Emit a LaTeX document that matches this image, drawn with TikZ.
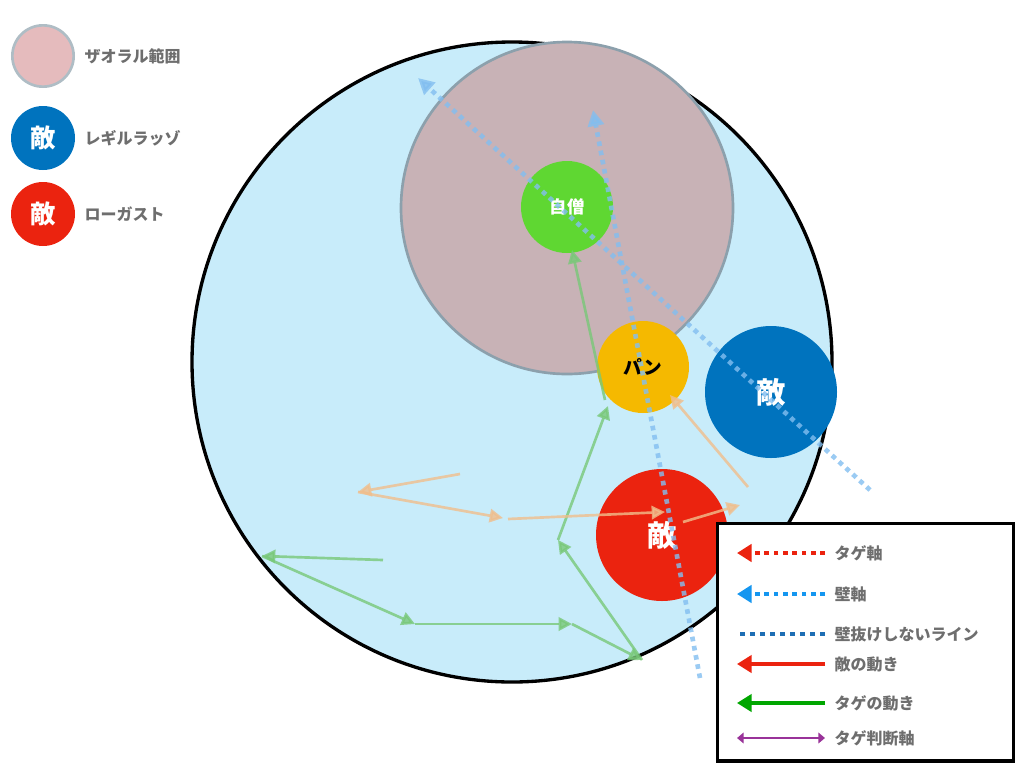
\documentclass[tikz,border=0pt]{standalone}
\usepackage{fontspec}
\newfontfamily\jp{Noto Sans CJK JP}
\usetikzlibrary{arrows.meta}
\definecolor{field}{RGB}{200,236,250}
\definecolor{zaoral}{RGB}{200,178,182}
\definecolor{zaoedge}{RGB}{140,160,172}
\definecolor{jisou}{RGB}{95,215,50}
\definecolor{pan}{RGB}{245,185,0}
\definecolor{legil}{RGB}{0,115,190}
\definecolor{logast}{RGB}{235,35,15}
\definecolor{wallax}{RGB}{130,190,240}
\definecolor{wallblue}{RGB}{20,150,240}
\definecolor{noline}{RGB}{30,110,180}
\definecolor{tagmove}{RGB}{120,200,120}
\definecolor{enmove}{RGB}{240,190,140}
\definecolor{labgray}{RGB}{110,110,110}
\tikzstyle{disc}=[circle, inner sep=0pt, anchor=center, font=\jp\bfseries]
\tikzstyle{annot}=[anchor=west, font=\jp\bfseries\fontsize{12}{13}\selectfont, text=labgray]
\tikzstyle{walldot}=[wallax, opacity=0.8, line width=3.5pt, dash pattern=on 3.5pt off 3.5pt, -{Triangle[length=12pt,width=12pt]}]
\tikzstyle{tagarrow}=[tagmove, opacity=0.8, line width=2pt, -{Triangle[length=10pt,width=10pt]}]
\tikzstyle{enarrow}=[enmove, opacity=0.8, line width=2pt, -{Triangle[length=10pt,width=10pt]}]
\begin{document}
\begin{tikzpicture}[x=0.75pt,y=-0.75pt]
  \useasboundingbox (0,0) rectangle (1024,768);

  % field and areas
  \node[disc, draw=black, line width=2.5pt, fill=field, minimum size=480pt] (field) at (512,362) {};
  \node[disc, draw=zaoedge, line width=2pt, fill=zaoral, minimum size=249pt] (zone) at (567,208) {};

  % characters
  \node[disc, fill=jisou, minimum size=69pt, text=white, font=\jp\bfseries\fontsize{13}{14}\selectfont] (jisou) at (567,207) {自僧};
  \node[disc, fill=pan, minimum size=69pt, text=black, font=\jp\bfseries\fontsize{14}{15}\selectfont] (pan) at (643,367) {パン};
  \node[disc, fill=legil, minimum size=99pt, text=white, font=\jp\bfseries\fontsize{22}{24}\selectfont] (legil) at (771,392) {敵};
  \node[disc, fill=logast, minimum size=99pt, text=white, font=\jp\bfseries\fontsize{22}{24}\selectfont] (logast) at (662,535) {敵};

  % wall axes
  \coordinate (w1s) at (870,490);
  \coordinate (w1e) at (418,78);
  \coordinate (w2s) at (700,678);
  \coordinate (w2e) at (593,110);
  \draw[walldot] (w1s) -- (w1e);
  \draw[walldot] (w2s) -- (w2e);

  % tag moves
  \foreach \n/\x/\y in {1/383/560, 2/262/556, 3/415/624, 4/572/624, 5/642/660, 6/558/540, 7/608/406, 8/605/400, 9/572/250}
    \coordinate (g\n) at (\x,\y);
  \foreach \a/\b in {1/2, 2/3, 3/4, 4/5, 5/6, 6/7, 8/9}
    \draw[tagarrow] (g\a) -- (g\b);

  % enemy moves
  \foreach \n/\x/\y in {1/460/474, 2/358/492, 3/503/518, 4/508/519, 5/665/512, 6/683/522, 7/740/505, 8/748/487, 9/670/395}
    \coordinate (e\n) at (\x,\y);
  \foreach \a/\b in {1/2, 2/3, 4/5, 6/7, 8/9}
    \draw[enarrow] (e\a) -- (e\b);

  % top-left legend
  \node[disc, draw=zaoedge!70, line width=2pt, fill=zaoral!80!red!60!white, minimum size=46pt] (keyzone) at (43,56) {};
  \node[disc, fill=legil, minimum size=48pt, text=white, font=\jp\bfseries\fontsize{19}{20}\selectfont] (keylegil) at (43,138) {敵};
  \node[disc, fill=logast, minimum size=48pt, text=white, font=\jp\bfseries\fontsize{19}{20}\selectfont] (keylogast) at (43,214) {敵};
  \node[annot] at (80,56) {ザオラル範囲};
  \node[annot] at (80,138) {レギルラッゾ};
  \node[annot] at (80,214) {ローガスト};

  % key box
  \node[draw=black, line width=2.5pt, fill=white, minimum width=222pt, minimum height=178pt, anchor=north west, inner sep=0pt] (key) at (716,522) {};
  \foreach \n/\y in {1/553, 2/594, 3/634, 4/664, 5/703, 6/738} {
    \coordinate (k\n s) at (825,\y);
    \coordinate (k\n e) at (737,\y);
  }
  \draw[logast, line width=3.5pt, dash pattern=on 3.5pt off 3.5pt, -{Triangle[length=11pt,width=13pt]}] (k1s) -- (k1e);
  \draw[wallblue, line width=3.5pt, dash pattern=on 3.5pt off 3.5pt, -{Triangle[length=11pt,width=13pt]}] (k2s) -- (k2e);
  \draw[noline, line width=3.5pt, dash pattern=on 4pt off 3.5pt] (k3s) -- (740,634);
  \draw[logast, line width=2.5pt, -{Triangle[length=11pt,width=13pt]}] (k4s) -- (k4e);
  \draw[green!65!black, line width=2.5pt, -{Triangle[length=11pt,width=13pt]}] (k5s) -- (k5e);
  \draw[violet!80, line width=1.2pt, {Triangle[length=5pt,width=8pt]}-{Triangle[length=5pt,width=8pt]}] (k6s) -- (k6e);
  \node[annot] at (830,553) {タゲ軸};
  \node[annot] at (830,594) {壁軸};
  \node[annot] at (830,634) {壁抜けしないライン};
  \node[annot] at (830,664) {敵の動き};
  \node[annot] at (830,703) {タゲの動き};
  \node[annot] at (830,738) {タゲ判断軸};
\end{tikzpicture}
\end{document}
